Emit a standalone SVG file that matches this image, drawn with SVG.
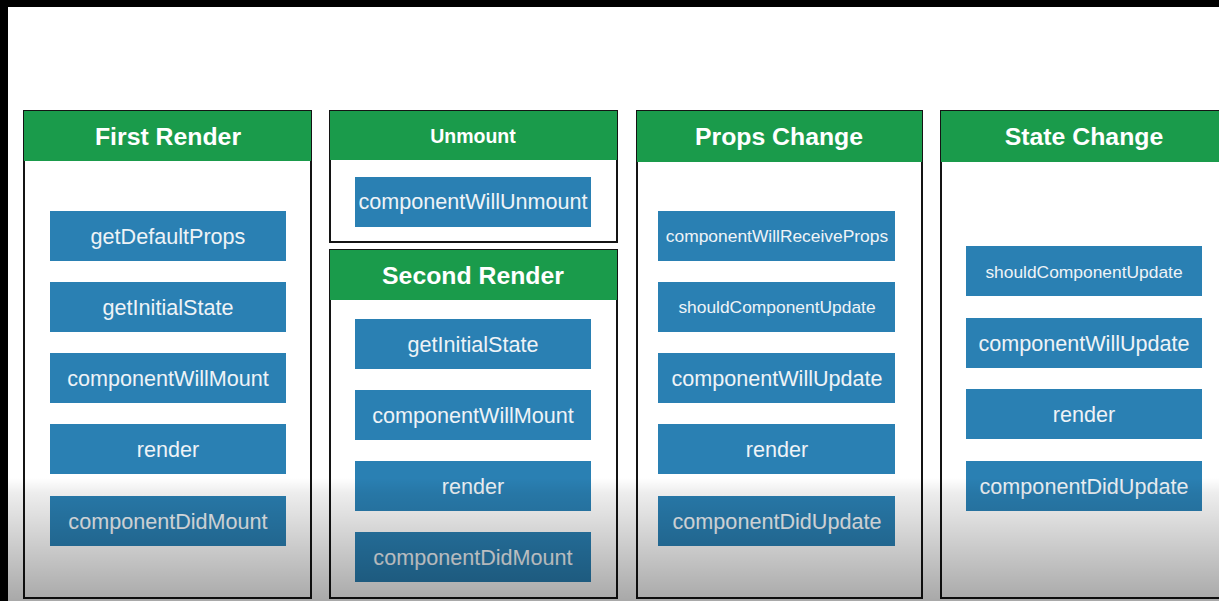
<svg xmlns="http://www.w3.org/2000/svg" width="1219" height="601" viewBox="0 0 1219 601">
<defs>
<linearGradient id="shade" x1="0" y1="0" x2="0" y2="1">
<stop offset="0" stop-color="#000" stop-opacity="0"/>
<stop offset="0.12" stop-color="#000" stop-opacity="0.07"/>
<stop offset="1" stop-color="#000" stop-opacity="0.34"/>
</linearGradient>
</defs>
<style>
.panel{fill:#fff;stroke:#141414;stroke-width:2}
.head{fill:#1a9b4b}
.box{fill:#2a80b3}
.ht{font-family:"Liberation Sans",Arial,sans-serif;font-weight:bold;font-size:24.8px;fill:#fff;text-anchor:middle}
.bt{font-family:"Liberation Sans",Arial,sans-serif;font-size:21.6px;fill:#eef3f7;text-anchor:middle}
.st{font-size:17.4px}
</style>
<rect x="0" y="0" width="1219" height="601" fill="#fff"/>
<rect x="0" y="0" width="1219" height="7" fill="#000"/>
<rect x="0" y="0" width="8" height="601" fill="#000"/>

<g id="first-render">
<rect class="panel" x="24" y="111" width="287" height="487"/>
<rect class="head" x="24" y="111" width="287" height="50"/>
<text class="ht" x="168" y="145">First Render</text>
<rect class="box" x="50" y="211" width="236" height="50"/><text class="bt" x="168" y="244">getDefaultProps</text>
<rect class="box" x="50" y="282" width="236" height="50"/><text class="bt" x="168" y="315">getInitialState</text>
<rect class="box" x="50" y="353" width="236" height="50"/><text class="bt" x="168" y="386">componentWillMount</text>
<rect class="box" x="50" y="424" width="236" height="50"/><text class="bt" x="168" y="457">render</text>
<rect class="box" x="50" y="496" width="236" height="50"/><text class="bt" x="168" y="529">componentDidMount</text>
</g>

<g id="unmount">
<rect class="panel" x="330" y="111" width="287" height="131"/>
<rect class="head" x="330" y="111" width="287" height="49"/>
<text class="ht" x="473" y="143" style="font-size:19.5px">Unmount</text>
<rect class="box" x="355" y="177" width="236" height="50"/><text class="bt" x="473" y="209">componentWillUnmount</text>
</g>

<g id="second-render">
<rect class="panel" x="330" y="250" width="287" height="348"/>
<rect class="head" x="330" y="250" width="287" height="50"/>
<text class="ht" x="473" y="284">Second Render</text>
<rect class="box" x="355" y="319" width="236" height="50"/><text class="bt" x="473" y="352">getInitialState</text>
<rect class="box" x="355" y="390" width="236" height="50"/><text class="bt" x="473" y="423">componentWillMount</text>
<rect class="box" x="355" y="461" width="236" height="50"/><text class="bt" x="473" y="494">render</text>
<rect class="box" x="355" y="532" width="236" height="50"/><text class="bt" x="473" y="565">componentDidMount</text>
</g>

<g id="props-change">
<rect class="panel" x="637" y="111" width="285" height="487"/>
<rect class="head" x="637" y="111" width="285" height="51"/>
<text class="ht" x="779" y="145">Props Change</text>
<rect class="box" x="658" y="211" width="237" height="50"/><text class="bt st" x="777" y="242">componentWillReceiveProps</text>
<rect class="box" x="658" y="282" width="237" height="50"/><text class="bt st" x="777" y="313">shouldComponentUpdate</text>
<rect class="box" x="658" y="353" width="237" height="50"/><text class="bt" x="777" y="386">componentWillUpdate</text>
<rect class="box" x="658" y="424" width="237" height="50"/><text class="bt" x="777" y="457">render</text>
<rect class="box" x="658" y="496" width="237" height="50"/><text class="bt" x="777" y="529">componentDidUpdate</text>
</g>

<g id="state-change">
<rect class="panel" x="941" y="111" width="300" height="487"/>
<rect class="head" x="941" y="111" width="300" height="51"/>
<text class="ht" x="1084" y="145">State Change</text>
<rect class="box" x="966" y="246" width="236" height="50"/><text class="bt st" x="1084" y="278">shouldComponentUpdate</text>
<rect class="box" x="966" y="318" width="236" height="50"/><text class="bt" x="1084" y="351">componentWillUpdate</text>
<rect class="box" x="966" y="389" width="236" height="50"/><text class="bt" x="1084" y="422">render</text>
<rect class="box" x="966" y="461" width="236" height="50"/><text class="bt" x="1084" y="494">componentDidUpdate</text>
</g>

<rect x="8" y="478" width="1211" height="123" fill="url(#shade)"/>
</svg>
